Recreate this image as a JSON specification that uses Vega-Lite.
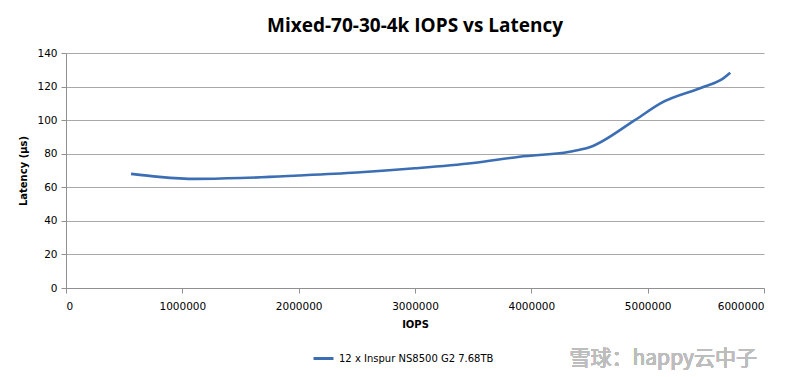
{
  "$schema": "https://vega.github.io/schema/vega-lite/v6.json",
  "width": 698,
  "height": 235,
  "autosize": {"type": "none"},
  "padding": {"left": 66, "top": 53, "right": 36, "bottom": 89},
  "background": "white",
  "title": {
    "text": "Mixed-70-30-4k IOPS vs Latency",
    "font": "Open Sans",
    "fontSize": 19,
    "fontWeight": "bold",
    "color": "#000000",
    "offset": 12,
    "anchor": "middle"
  },
  "config": {
    "view": {"stroke": null},
    "axis": {
      "labelFont": "DejaVu Sans",
      "labelFontSize": 10.5,
      "labelColor": "#000000",
      "titleFont": "DejaVu Sans",
      "titleFontSize": 10,
      "titleFontWeight": "bold",
      "titleColor": "#000000",
      "domainColor": "#909090",
      "tickColor": "#909090",
      "gridColor": "#a8a8a8",
      "gridWidth": 1,
      "tickSize": 5,
      "labelOverlap": false
    }
  },
  "data": {
    "values": [
      {"iops": 559000, "latency": 68.0, "series": "12 x Inspur NS8500 G2 7.68TB"},
      {"iops": 800000, "latency": 66.2, "series": "12 x Inspur NS8500 G2 7.68TB"},
      {"iops": 1110000, "latency": 65.0, "series": "12 x Inspur NS8500 G2 7.68TB"},
      {"iops": 1500000, "latency": 65.5, "series": "12 x Inspur NS8500 G2 7.68TB"},
      {"iops": 2000000, "latency": 67.0, "series": "12 x Inspur NS8500 G2 7.68TB"},
      {"iops": 2500000, "latency": 68.8, "series": "12 x Inspur NS8500 G2 7.68TB"},
      {"iops": 3000000, "latency": 71.3, "series": "12 x Inspur NS8500 G2 7.68TB"},
      {"iops": 3500000, "latency": 74.5, "series": "12 x Inspur NS8500 G2 7.68TB"},
      {"iops": 3900000, "latency": 78.2, "series": "12 x Inspur NS8500 G2 7.68TB"},
      {"iops": 4330000, "latency": 81.2, "series": "12 x Inspur NS8500 G2 7.68TB"},
      {"iops": 4500000, "latency": 83.8, "series": "12 x Inspur NS8500 G2 7.68TB"},
      {"iops": 4890000, "latency": 100.0, "series": "12 x Inspur NS8500 G2 7.68TB"},
      {"iops": 5110000, "latency": 110.0, "series": "12 x Inspur NS8500 G2 7.68TB"},
      {"iops": 5490000, "latency": 120.0, "series": "12 x Inspur NS8500 G2 7.68TB"},
      {"iops": 5650000, "latency": 124.9, "series": "12 x Inspur NS8500 G2 7.68TB"},
      {"iops": 5710000, "latency": 128.2, "series": "12 x Inspur NS8500 G2 7.68TB"}
    ]
  },
  "encoding": {
    "x": {
      "type": "quantitative",
      "title": "IOPS",
      "scale": {"domain": [0, 6000000], "nice": false},
      "axis": {"values": [0, 1000000, 2000000, 3000000, 4000000, 5000000, 6000000], "format": "d", "grid": false, "labelPadding": 8, "titlePadding": 8}
    },
    "y": {
      "type": "quantitative",
      "title": "Latency (µs)",
      "scale": {"domain": [0, 140], "nice": false},
      "axis": {"values": [0, 20, 40, 60, 80, 100, 120, 140], "labelPadding": 4, "titlePadding": 8}
    }
  },
  "layer": [
    {
      "mark": {"type": "line", "interpolate": "monotone", "strokeWidth": 2.6},
      "encoding": {
        "x": {"field": "iops", "type": "quantitative"},
        "y": {"field": "latency", "type": "quantitative"},
        "color": {
          "field": "series",
          "type": "nominal",
          "scale": {"range": ["#3c6eb4"]},
          "legend": {
            "title": null,
            "orient": "none",
            "legendX": 246,
            "legendY": 294,
            "symbolType": "stroke",
            "symbolSize": 400,
            "symbolStrokeWidth": 3,
            "labelFont": "DejaVu Sans",
            "labelFontSize": 10,
            "labelColor": "#000000"
          }
        }
      }
    },
    {
      "mark": {"type": "text", "align": "right", "baseline": "middle", "font": "Noto Sans CJK SC", "fontSize": 21, "color": "#bdbdbd"},
      "encoding": {
        "x": {"datum": 5940000, "type": "quantitative"},
        "y": {"datum": -42, "type": "quantitative"},
        "text": {"value": "雪球：happy云中子"}
      }
    }
  ]
}
